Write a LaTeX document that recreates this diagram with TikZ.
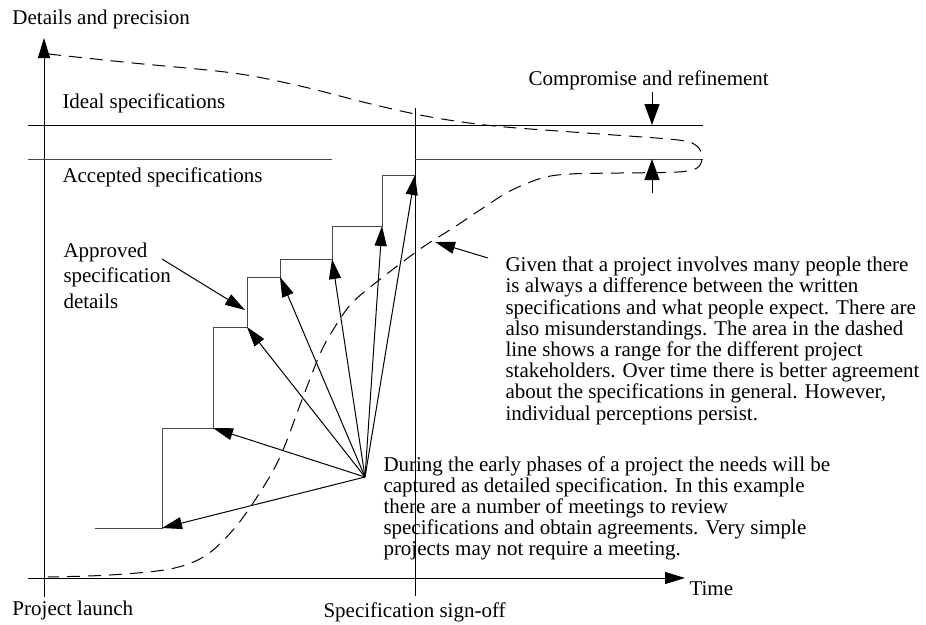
\documentclass[tikz,border=0pt]{standalone}
\usepackage{fontspec}
\setmainfont{Liberation Serif}
\usetikzlibrary{arrows.meta}
\begin{document}
\begin{tikzpicture}[x=1pt,y=-1pt,line width=1pt,
  txt/.style={inner sep=0pt,anchor=base west,font=\fontsize{21}{21.2}\selectfont},
  para/.style={txt,align=left},
  arr/.style={-{Triangle[length=20pt,width=12pt]}},
  bigarr/.style={-{Triangle[length=21pt,width=15pt]}},
  spread/.style={dash pattern=on 13pt off 8pt},
  level/.style={draw=black!72},
  stair/.style={draw=black!72}
]
\useasboundingbox (0,0) rectangle (926,624);

% axes and reference lines
\coordinate (yb) at (44,597);   \coordinate (yt) at (44,38);
\coordinate (xl) at (28,578);   \coordinate (xr) at (685,578);
\coordinate (sb) at (415,596);  \coordinate (st) at (415,108);
\coordinate (il) at (28,125);   \coordinate (ir) at (703,125);
\coordinate (al) at (28,159);   \coordinate (am) at (332,159);
\coordinate (ar) at (703,159);

\draw[arr] (yb) -- (yt);
\draw[arr] (xl) -- (xr);
\draw (sb) -- (st);
\draw (il) -- (ir);
\draw[level] (al) -- (am);
\draw[level] (sb |- al) -- (ar);

% staircase of approved details
\coordinate (s0) at (95,528);
\coordinate (c1) at (162,528);
\coordinate (c2) at (213,428);
\coordinate (c3) at (247,327);
\coordinate (c4) at (280,277);
\coordinate (c5) at (332,259);
\coordinate (c6) at (382,226);
\coordinate (c7) at (415,175);
\draw[stair] (s0) -- (c1) |- (c2) |- (c3) |- (c4) |- (c5) |- (c6) |- (c7);

% meetings fan
\coordinate (fan) at (365,477);
\foreach \c in {c1,c2,c3,c4,c5,c6,c7}
  \draw[arr] (fan) -- (\c);

% stakeholder range
\draw[spread] plot[smooth,tension=0.55] coordinates {
  (48,54) (133,63) (233,73) (300,86) (367,103) (415,114) (455,121)
  (505,127) (600,134) (678,140) (697,146) (702,158) (697,168) (678,172)
  (620,173) (570,174) (542,178) (510,191) (480,210) (453,228) (423,247)
  (383,277) (352,303) (333,330) (320,354) (303,397) (280,457) (257,497)
  (233,530) (205,556) (170,569) (110,575) (48,577)};

% compromise arrows
\coordinate (cd) at (652,92);  \coordinate (cdt) at (652,125);
\coordinate (cu) at (652,193); \coordinate (cut) at (652,159);
\draw[bigarr] (cd) -- (cdt);
\draw[bigarr] (cu) -- (cut);

% labels (multi-line nodes are placed by the baseline of their last line)
\node[txt] (ylab) at (12,24) {Details and precision};
\node[txt] (ideal) at (62,108) {Ideal specifications};
\node[txt] (acc) at (62,182) {Accepted specifications};
\node[txt] (comp) at (528,85) {Compromise and refinement};
\node[txt] (time) at (689,595) {Time};
\node[txt] (launch) at (12,615) {Project launch};
\node[txt] (signoff) at (323,617) {Specification sign-off};
\node[para,font=\fontsize{21}{25.5}\selectfont] (appr) at (63,308)
  {Approved\\specification\\details};
\node[para] (given) at (505,420)
  {Given that a project involves many people there\\
   is always a difference between the written\\
   specifications and what people expect. There are\\
   also misunderstandings. The area in the dashed\\
   line shows a range for the different project\\
   stakeholders. Over time there is better agreement\\
   about the specifications in general. However,\\
   individual perceptions persist.};
\node[para,font=\fontsize{21}{20.8}\selectfont] (during) at (383,555)
  {During the early phases of a project the needs will be\\
   captured as detailed specification. In this example\\
   there are a number of meetings to review\\
   specifications and obtain agreements. Very simple\\
   projects may not require a meeting.};

% label pointers
\coordinate (apf) at (162,259); \coordinate (apt) at (245,310);
\draw[arr] (apf) -- (apt);
\coordinate (gf) at (488,258); \coordinate (gt) at (435,242);
\draw[arr] (gf) -- (gt);
\end{tikzpicture}
\end{document}
